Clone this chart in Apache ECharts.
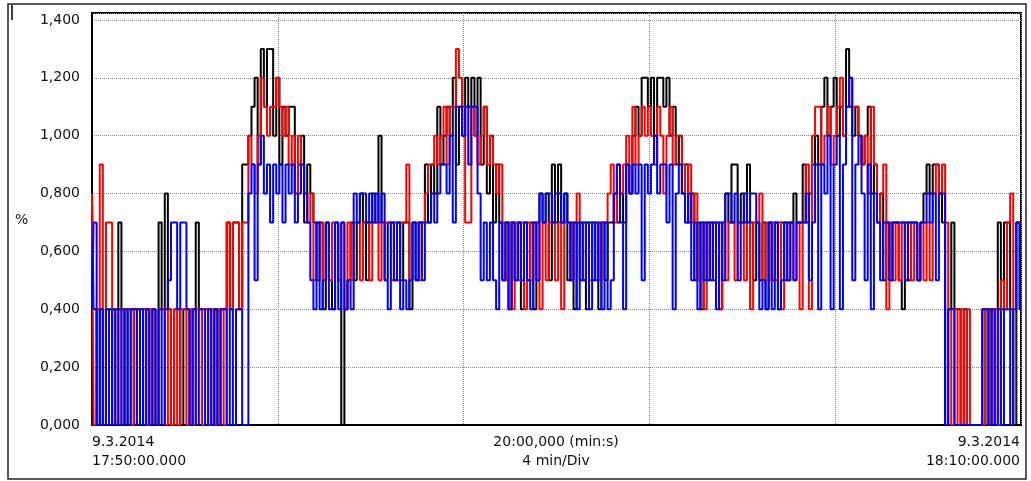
<!DOCTYPE html>
<html>
<head>
<meta charset="utf-8">
<script src="https://cdn.jsdelivr.net/npm/echarts@6/dist/echarts.min.js"></script>
<style>
  html, body { margin: 0; padding: 0; background: #fff; }
  #chart { width: 1031px; height: 481px; }
</style>
</head>
<body>
<div id="chart"></div>
<script>
// Recording window: 9.3.2014 17:50:00 – 18:10:00, one sample every 4 s
const sampleStepSec = 4;
const windowSec = 1200;
const divisionSec = 240;

const xLabelsLeft = ['9.3.2014', '17:50:00.000'];
const xLabelsCenter = ['20:00,000 (min:s)', '4 min/Div'];
const xLabelsRight = ['9.3.2014', '18:10:00.000'];
const yUnit = '%';

// Channel 1 (black)
const seriesBlack = [
  0.8,0.4,0,0.4,0,0.4,0.4,0,0.4,0.7,
  0.4,0,0.4,0.4,0,0.4,0,0.4,0.4,0,
  0.4,0,0.7,0.4,0.8,0.4,0,0.4,0.4,0,
  0.4,0.4,0,0.4,0.7,0.4,0,0.4,0.4,0,
  0.4,0,0.4,0.4,0.7,0.4,0.7,0.7,0.4,0.9,
  0.9,1.0,1.1,1.2,0.9,1.3,1.1,1.3,1.3,1.0,
  1.2,0.9,1.1,1.0,1.1,1.1,0.8,0.9,1.0,0.7,
  0.9,0.8,0.7,0.5,0.7,0.4,0.7,0.5,0.4,0.7,
  0.5,0,0.4,0.5,0.7,0.5,0.7,0.8,0.7,0.5,
  0.7,0.8,0.7,1.0,0.7,0.5,0.7,0.7,0.5,0.7,
  0.5,0.7,0.7,0.4,0.7,0.5,0.7,0.7,0.9,0.7,
  0.9,0.8,1.1,0.9,1.0,1.1,1.0,1.2,0.9,1.1,
  1.0,1.2,1.1,1.2,1.0,1.2,0.9,1.1,0.8,1.0,
  0.7,0.9,0.7,0.5,0.7,0.4,0.7,0.5,0.7,0.4,
  0.7,0.5,0.7,0.4,0.7,0.8,0.7,0.8,0.5,0.9,
  0.7,0.9,0.7,0.8,0.5,0.7,0.4,0.7,0.5,0.7,
  0.4,0.7,0.5,0.7,0.4,0.7,0.5,0.7,0.7,0.8,
  0.7,0.8,0.7,0.9,0.8,1.0,1.1,1.0,1.2,1.2,
  1.1,1.2,1.0,1.2,1.2,1.1,1.2,1.0,1.1,0.9,
  1.0,0.8,0.9,0.7,0.8,0.5,0.7,0.4,0.7,0.5,
  0.7,0.5,0.7,0.4,0.7,0.8,0.7,0.9,0.9,0.7,
  0.8,0.7,0.9,0.7,0.5,0.7,0.5,0.7,0.4,0.7,
  0.5,0.7,0.4,0.7,0.5,0.7,0.7,0.8,0.7,0.7,
  0.9,0.7,0.8,0.9,1.0,0.9,1.1,1.2,1.0,1.1,
  1.2,1.0,1.1,1.0,1.3,1.1,1.0,1.1,1.0,0.9,
  1.0,1.1,0.8,0.9,0.7,0.8,0.5,0.7,0.5,0.7,
  0.7,0.5,0.4,0.7,0.5,0.7,0.7,0.5,0.7,0.8,
  0.9,0.8,0.9,0.9,0.8,0.7,0,0.4,0.7,0.4,
  0.4,0,0.4,0,0,0,0,0,0.4,0,
  0.4,0,0.4,0.7,0.4,0.7,0.7,0.4,0,0.7,
  0.7
];

// Channel 2 (red)
const seriesRed = [
  0.8,0,0.4,0.9,0,0.7,0.7,0.4,0,0.4,
  0,0.4,0.4,0,0.4,0,0.4,0.4,0,0.4,
  0.4,0,0.4,0.4,0,0.4,0,0.4,0,0.4,
  0.4,0,0.4,0,0.4,0.4,0,0.4,0,0.4,
  0,0.4,0.4,0,0.7,0.4,0.7,0.7,0.4,0.7,
  0.7,1.0,0.9,0.8,1.0,1.2,1.1,1.0,1.1,1.1,
  1.2,1.1,1.0,1.1,0.9,1.0,0.8,1.0,0.9,0.8,
  0.7,0.8,0.5,0.7,0.7,0.5,0.7,0.5,0.7,0.7,
  0.5,0.7,0.4,0.7,0.5,0.7,0.7,0.5,0.7,0.7,
  0.5,0.7,0.7,0.5,0.7,0.7,0.7,0.5,0.7,0.5,
  0.7,0.7,0.9,0.5,0.7,0.7,0.5,0.7,0.8,0.9,
  0.9,1.0,0.9,1.0,1.1,0.9,1.1,1.1,1.3,1.2,
  1.1,0.7,0.7,1.1,1.0,0.9,1.0,1.1,0.9,1.0,
  0.9,0.8,0.9,0.7,0.5,0.7,0.4,0.7,0.5,0.7,
  0.4,0.7,0.5,0.7,0.7,0.4,0.7,0.5,0.7,0.7,
  0.5,0.7,0.4,0.7,0.7,0.5,0.7,0.8,0.7,0.5,
  0.7,0.5,0.7,0.7,0.5,0.7,0.7,0.8,0.9,0.7,
  0.9,0.8,0.9,1.0,0.8,1.1,0.9,1.0,1.1,1.0,
  1.1,1.0,0.9,1.1,1.0,0.8,1.0,1.1,0.9,1.0,
  1.0,0.9,0.7,0.9,0.7,0.8,0.5,0.7,0.4,0.7,
  0.5,0.7,0.7,0.4,0.7,0.5,0.7,0.7,0.5,0.7,
  0.7,0.5,0.7,0.4,0.7,0.7,0.8,0.5,0.7,0.5,
  0.7,0.5,0.7,0.4,0.7,0.5,0.7,0.5,0.7,0.4,
  0.7,0.9,0.4,1.0,1.1,1.1,0.9,1.0,1.1,0.9,
  1.0,1.1,1.2,1.0,1.1,1.2,1.1,1.1,1.0,0.9,
  1.0,0.8,1.1,0.9,0.7,0.8,0.9,0.4,0.7,0.5,
  0.7,0.5,0.7,0.5,0.7,0.5,0.7,0.5,0.7,0.5,
  0.7,0.5,0.8,0.9,0.8,0.9,0.7,0.4,0,0.4,
  0,0.4,0,0.4,0,0,0,0,0,0.4,
  0,0.4,0.4,0,0.5,0.4,0.7,0.8,0.4,0.7,
  0.7
];

// Channel 3 (blue)
const seriesBlue = [
  0.4,0.7,0,0.4,0,0.4,0,0.4,0,0.4,
  0,0.4,0,0.4,0.4,0,0.4,0,0.4,0,
  0.4,0,0.4,0,0.4,0.5,0.7,0.7,0.4,0.7,
  0.7,0.4,0,0.4,0,0.4,0.4,0,0.4,0,
  0.4,0,0.4,0.4,0,0.4,0,0.4,0.4,0,
  0,0.8,0.9,0.5,0.9,1.0,0.8,0.9,0.7,0.9,
  0.8,0.9,0.7,0.9,0.8,0.9,0.7,0.8,0.9,0.8,
  0.7,0.5,0.4,0.7,0.4,0.5,0.7,0.4,0.4,0.7,
  0.4,0.7,0.4,0.5,0.4,0.8,0.7,0.8,0.8,0.7,
  0.8,0.7,0.8,0.7,0.8,0.5,0.4,0.7,0.5,0.7,
  0.4,0.5,0.4,0.5,0.7,0.5,0.7,0.5,0.7,0.7,
  0.8,0.7,0.8,0.9,0.9,0.8,1.0,0.7,1.1,1.1,
  1.0,1.1,0.9,1.1,1.1,0.8,0.5,0.7,0.5,0.7,
  0.5,0.4,0.7,0.5,0.7,0.4,0.7,0.5,0.7,0.5,
  0.7,0.5,0.4,0.7,0.5,0.8,0.7,0.8,0.8,0.7,
  0.8,0.8,0.7,0.8,0.7,0.5,0.7,0.4,0.7,0.5,
  0.7,0.4,0.7,0.5,0.7,0.4,0.7,0.4,0.5,0.8,
  0.9,0.7,0.4,0.9,0.8,0.9,0.8,0.9,0.5,0.9,
  0.8,0.9,1.0,0.8,0.9,0.9,0.7,0.9,0.4,0.8,
  0.9,0.8,0.7,0.8,0.5,0.7,0.4,0.7,0.5,0.7,
  0.5,0.7,0.4,0.7,0.5,0.8,0.8,0.7,0.8,0.5,
  0.7,0.8,0.7,0.8,0.8,0.7,0.4,0.5,0.4,0.7,
  0.4,0.7,0.4,0.5,0.7,0.5,0.7,0.5,0.7,0.7,
  0.7,0.8,0.5,0.7,0.9,0.4,0.9,0.8,1.0,0.4,
  0.9,1.0,0.4,0.9,1.1,1.2,0.5,0.9,1.0,0.8,
  0.5,0.9,0.4,0.8,0.7,0.5,0.7,0.7,0.5,0.7,
  0.7,0.7,0.7,0.5,0.7,0.7,0.7,0.5,0.7,0.7,
  0.8,0.7,0.8,0.5,0.8,0.8,0,0.4,0.4,0,
  0,0,0,0,0,0,0,0,0.4,0.4,
  0,0.4,0,0.4,0,0.4,0.4,0,0.4,0.7,
  0.4
];

const FONT = 'DejaVu Sans, Liberation Sans, sans-serif';

function toPairs(values) {
  return values.map((v, i) => [i * sampleStepSec, v]);
}

function yLabel(v) {
  const steps = v / 0.2;
  if (Math.abs(steps - Math.round(steps)) > 1e-6) return '';
  return v.toFixed(3).replace('.', ',');
}

function channel(name, color, values, z) {
  return {
    name: name,
    type: 'line',
    step: 'middle',
    data: toPairs(values),
    showSymbol: false,
    symbol: 'none',
    animation: false,
    z: z,
    lineStyle: { color: color, width: 2 },
    itemStyle: { color: color }
  };
}

const chart = echarts.init(document.getElementById('chart'), null, { renderer: 'canvas' });

const textStyle = { font: '14px ' + FONT, fill: '#111' };

chart.setOption({
  animation: false,
  backgroundColor: '#ffffff',
  grid: {
    left: 92, top: 13, width: 929, height: 412,
    show: true, borderColor: '#000', borderWidth: 2,
    containLabel: false
  },
  xAxis: {
    type: 'value',
    min: 0, max: windowSec, interval: divisionSec,
    axisLine: { show: true, lineStyle: { color: '#000', width: 2 } },
    axisTick: { show: false },
    axisLabel: { show: false },
    splitLine: { show: true, lineStyle: { color: '#888', type: 'dotted', width: 1 } }
  },
  yAxis: {
    type: 'value',
    min: 0, max: 1.424, interval: 0.2,
    axisLine: { show: true, lineStyle: { color: '#000', width: 2 } },
    axisTick: { show: false },
    axisLabel: {
      formatter: yLabel, margin: 12, color: '#111',
      fontFamily: FONT, fontSize: 14, showMaxLabel: false
    },
    splitLine: { show: true, lineStyle: { color: '#888', type: 'dotted', width: 1 } }
  },
  series: [
    channel('Kanal 1', '#000000', seriesBlack, 2),
    channel('Kanal 2', '#ff0000', seriesRed, 3),
    channel('Kanal 3', '#0000ff', seriesBlue, 4)
  ],
  graphic: [
    { type: 'rect', silent: true, z: 0,
      shape: { x: 8, y: 4, width: 1018, height: 475 },
      style: { fill: 'none', stroke: '#222', lineWidth: 1.5 } },
    { type: 'line', silent: true,
      shape: { x1: 12, y1: 5, x2: 12, y2: 20 },
      style: { stroke: '#000', lineWidth: 1.5 } },
    { type: 'text', x: 15, y: 213, style: Object.assign({ text: yUnit }, textStyle) },
    { type: 'text', x: 92, y: 435, style: Object.assign({ text: xLabelsLeft[0] }, textStyle) },
    { type: 'text', x: 92, y: 454, style: Object.assign({ text: xLabelsLeft[1] }, textStyle) },
    { type: 'text', x: 556, y: 435, style: Object.assign({ text: xLabelsCenter[0], textAlign: 'center' }, textStyle) },
    { type: 'text', x: 556, y: 454, style: Object.assign({ text: xLabelsCenter[1], textAlign: 'center' }, textStyle) },
    { type: 'text', x: 1020, y: 435, style: Object.assign({ text: xLabelsRight[0], textAlign: 'right' }, textStyle) },
    { type: 'text', x: 1020, y: 454, style: Object.assign({ text: xLabelsRight[1], textAlign: 'right' }, textStyle) }
  ]
});
</script>
</body>
</html>
